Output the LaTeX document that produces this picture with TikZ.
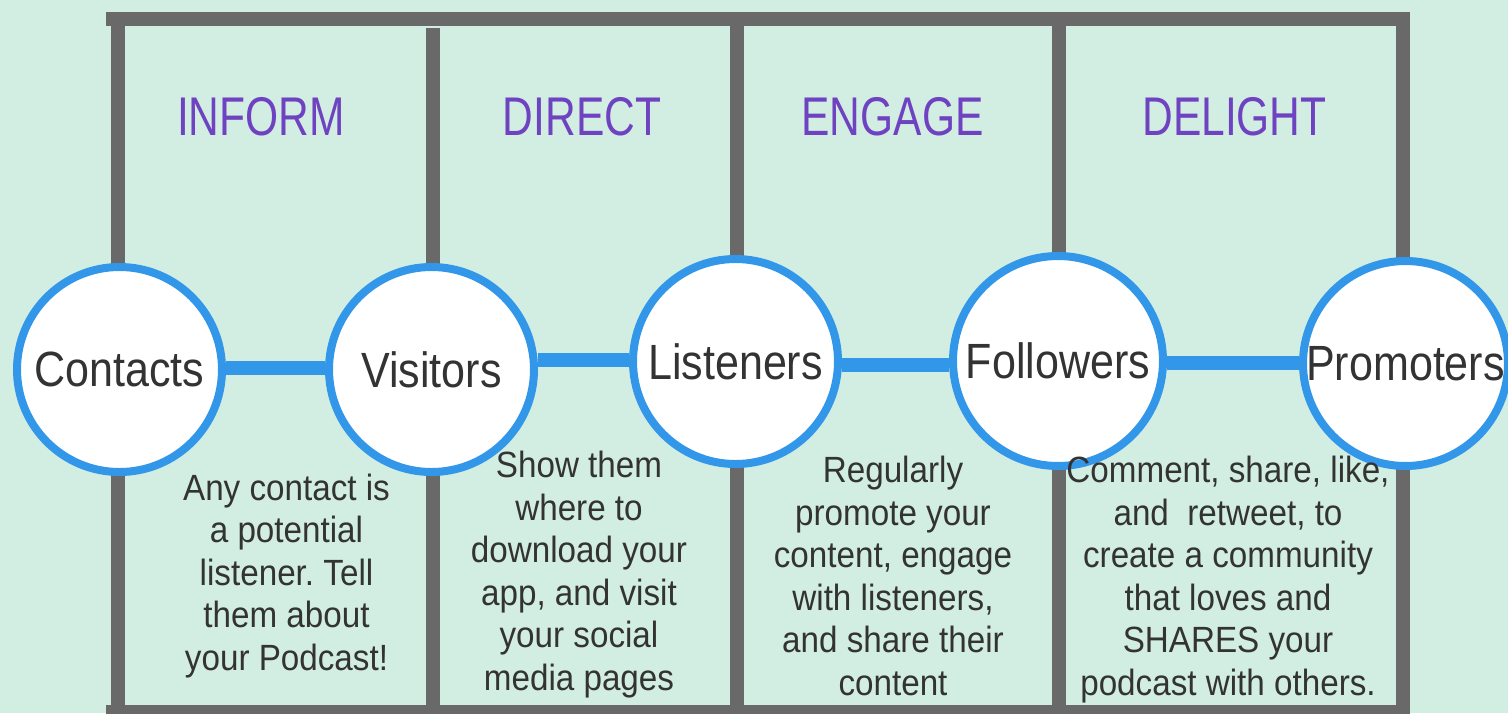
\documentclass[tikz,border=0pt]{standalone}
\usepackage{fontspec}
\newfontfamily\hfont[FakeStretch=0.78]{Liberation Sans}
\newfontfamily\cfont[FakeStretch=0.87]{Liberation Sans}
\newfontfamily\bfont[FakeStretch=0.91]{Liberation Sans}
\frenchspacing
\definecolor{bgc}{HTML}{D2EEE2}
\definecolor{framec}{HTML}{696969}
\definecolor{ringc}{HTML}{3296E9}
\definecolor{headc}{HTML}{6F42C1}
\definecolor{txtc}{HTML}{333333}
\begin{document}
\begin{tikzpicture}[x=1pt,y=-1pt,
  bar/.style={fill=framec},
  conn/.style={draw=ringc,line width=14pt},
  stage/.style={circle,draw=ringc,line width=8pt,fill=white,inner sep=0pt,
    minimum size=205pt,text=txtc,font=\cfont\fontsize{49.5}{49.5}\selectfont},
  headtext/.style={text=headc,inner sep=0pt,anchor=base,
    font=\hfont\fontsize{54.5}{54.5}\selectfont},
  body/.style={align=center,text=txtc,inner sep=0pt,anchor=base,
    font=\bfont\fontsize{36.5}{42.5}\selectfont\frenchspacing}]
\fill[bgc] (0,0) rectangle (1508,713);
\useasboundingbox (0,0) rectangle (1508,713);
% frame
\fill[bar] (106,12) rectangle (1410,26);
\fill[bar] (106,705) rectangle (1410,719);
\fill[bar] (111,26) rectangle (125,705);
\fill[bar] (426,28) rectangle (440,705);
\fill[bar] (730,26) rectangle (744,705);
\fill[bar] (1052,26) rectangle (1066,705);
\fill[bar] (1396,26) rectangle (1410,705);
% stages
\node[stage] (c) at (119.5,369.5) {Contacts};
\node[stage] (v) at (431.5,369.5) {Visitors};
\node[stage] (l) at (735.5,361.5) {Listeners};
\node[stage,minimum size=210pt] (f) at (1058,361) {Followers};
\node[stage] (p) at (1405.5,363.5) {Promoters};
% connectors
\draw[conn] (c.east |- 0,368) -- (v.west |- 0,368);
\draw[conn] (v.east |- 0,359.5) -- (l.west |- 0,359.5);
\draw[conn] (l.east |- 0,365) -- (f.west |- 0,365);
\draw[conn] (f.east |- 0,363) -- (p.west |- 0,363);
% headers
\node[headtext] (h1) at (261,135) {INFORM};
\node[headtext] (h2) at (582,135) {DIRECT};
\node[headtext] (h3) at (892.5,135) {ENGAGE};
\node[headtext] (h4) at (1234.5,135) {DELIGHT};
% descriptions
\node[body] (d1) at (286.5,670) {Any contact is\\a potential\\listener. Tell\\them about\\your Podcast!};
\node[body] (d2) at (579,690) {Show them\\where to\\download your\\app, and visit\\your social\\media pages};
\node[body] (d3) at (893,695) {Regularly\\promote your\\content, engage\\with listeners,\\and share their\\content};
\node[body] (d4) at (1228,695) {Comment, share, like,\\and~ retweet, to\\create a community\\that loves and\\SHARES your\\podcast with others.};
\end{tikzpicture}
\end{document}
